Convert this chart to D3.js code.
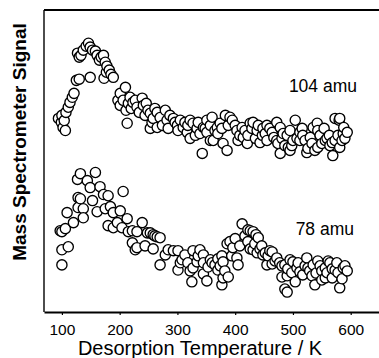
<!DOCTYPE html>
<html>
<head>
<meta charset="utf-8">
<script src="https://cdn.jsdelivr.net/npm/d3@7"></script>
<style>
  body { margin: 0; background: #fff; }
  svg { display: block; font-family: "Liberation Sans", Arial, Helvetica, sans-serif; }
</style>
</head>
<body>
<figure id="tpd" style="margin:0"></figure>
<script>
// Desorption temperature (K) and signal (arb. units)
const temp104 = [94, 99, 100, 102, 104, 106, 107, 111, 114, 118, 121, 125, 127, 130, 130, 133, 137, 142, 146, 149,
  149, 153, 158, 161, 165, 168, 172, 173, 175, 177, 178, 182, 185, 189, 197, 201, 201, 206, 210, 211,
  213, 215, 218, 220, 223, 227, 230, 234, 239, 241, 244, 246, 249, 253, 253, 256, 258, 261, 265, 265,
  270, 274, 279, 282, 284, 287, 293, 296, 300, 301, 305, 310, 313, 317, 318, 322, 322, 327, 331, 334,
  336, 339, 343, 345, 348, 351, 351, 357, 357, 360, 362, 365, 369, 370, 374, 377, 379, 383, 386, 388,
  391, 395, 400, 403, 405, 408, 412, 414, 417, 421, 422, 426, 429, 431, 435, 438, 440, 443, 447, 448,
  452, 455, 455, 460, 464, 467, 472, 472, 474, 478, 478, 481, 483, 486, 490, 492, 495, 495, 498, 500,
  504, 507, 512, 512, 516, 517, 521, 524, 526, 530, 533, 535, 538, 542, 543, 543, 547, 550, 554, 556,
  559, 563, 564, 568, 569, 573, 573, 578, 580, 581, 581, 585, 587, 588, 590, 594];
const signal104 = [64.1, 62.8, 65.1, 61.1, 63.4, 60.1, 66.1, 67.8, 69.4, 71.1, 72.4, 76.7, 85.7, 84.4, 77.1, 85.0, 86.7, 88.0, 89.0, 87.7,
  77.7, 86.7, 86.4, 85.0, 83.4, 84.4, 85.0, 77.4, 82.7, 79.4, 81.4, 80.1, 78.7, 77.7, 70.1, 72.4, 68.4, 70.1, 74.4, 66.8,
  62.5, 69.1, 71.1, 67.4, 69.4, 70.1, 67.8, 66.1, 70.8, 68.4, 65.1, 69.1, 66.8, 65.8, 60.8, 62.8, 64.1, 67.4, 66.1, 61.1,
  64.4, 61.8, 66.8, 63.5, 60.8, 65.1, 64.1, 62.8, 61.8, 60.1, 63.5, 61.1, 62.8, 59.5, 61.8, 63.5, 57.5, 62.5, 58.5, 60.8,
  62.8, 59.1, 52.5, 61.1, 60.8, 63.5, 59.5, 61.8, 56.8, 64.5, 56.8, 60.1, 61.1, 59.1, 62.5, 60.8, 55.8, 65.1, 53.5, 61.8,
  64.5, 63.5, 61.8, 60.1, 56.8, 58.5, 61.1, 57.8, 60.1, 55.8, 58.5, 62.5, 60.8, 62.8, 57.5, 60.1, 61.8, 56.1, 58.5, 60.8,
  59.1, 61.8, 56.8, 60.8, 59.5, 57.8, 62.8, 56.8, 55.8, 61.1, 52.5, 57.5, 59.1, 55.1, 58.5, 54.5, 60.1, 53.5, 55.1, 56.8,
  63.5, 57.5, 59.5, 56.8, 60.8, 58.5, 56.8, 52.8, 54.2, 57.8, 55.8, 61.1, 53.5, 62.5, 60.1, 54.5, 58.5, 55.8, 60.8, 56.8,
  57.5, 58.5, 55.1, 56.1, 51.8, 64.1, 56.8, 58.5, 63.5, 64.1, 54.5, 56.8, 59.1, 61.1, 57.5, 59.5];

const temp78 = [97, 100, 100, 100, 106, 109, 111, 120, 127, 128, 128, 132, 132, 137, 137, 144, 149, 153, 158, 161,
  166, 172, 175, 180, 180, 184, 189, 189, 196, 201, 204, 206, 213, 215, 222, 222, 227, 230, 230, 239,
  244, 248, 253, 258, 258, 261, 265, 270, 270, 279, 284, 293, 301, 301, 305, 308, 313, 318, 322, 325,
  327, 327, 334, 336, 339, 345, 345, 345, 351, 353, 357, 360, 365, 370, 370, 374, 377, 377, 379, 379,
  382, 386, 388, 391, 394, 396, 400, 403, 405, 408, 412, 417, 422, 422, 426, 426, 431, 431, 434, 436,
  438, 440, 443, 446, 448, 452, 455, 457, 460, 464, 464, 469, 472, 477, 481, 481, 486, 486, 490, 490,
  491, 495, 498, 500, 504, 507, 509, 512, 517, 521, 524, 526, 529, 533, 535, 538, 540, 543, 547, 550,
  550, 556, 556, 559, 561, 564, 568, 568, 573, 576, 578, 581, 585, 587, 590, 594];
const signal78 = [26.9, 26.6, 20.6, 15.6, 27.6, 32.9, 21.6, 29.6, 43.9, 37.9, 34.6, 45.8, 37.5, 34.2, 31.2, 43.5, 41.2, 36.9, 46.2, 33.2,
  41.5, 38.9, 34.2, 38.5, 28.6, 34.9, 32.9, 27.9, 29.6, 33.5, 27.9, 39.9, 30.9, 26.6, 26.9, 22.9, 20.6, 26.6, 21.3, 29.6,
  21.9, 26.2, 26.2, 25.6, 20.9, 25.2, 24.9, 24.6, 15.6, 18.9, 20.6, 20.3, 20.3, 13.9, 16.3, 17.3, 18.9, 16.3, 13.6, 10.0,
  20.3, 14.6, 16.6, 18.6, 20.6, 18.9, 16.3, 12.6, 10.3, 14.9, 17.3, 16.3, 15.6, 17.6, 13.9, 15.3, 18.6, 9.0, 16.6, 11.3,
  13.6, 22.6, 11.6, 23.3, 18.6, 21.3, 24.3, 17.9, 15.6, 21.9, 29.2, 25.2, 27.2, 23.3, 26.9, 20.9, 26.6, 20.6, 22.6, 25.6,
  19.6, 24.6, 20.9, 21.9, 18.9, 19.6, 15.6, 18.6, 20.3, 19.9, 15.9, 16.9, 17.9, 16.3, 15.3, 11.6, 15.6, 7.6, 12.0, 6.6,
  14.3, 17.3, 13.0, 16.6, 10.0, 14.6, 16.3, 13.3, 12.3, 15.3, 17.9, 14.6, 13.6, 12.0, 15.6, 9.0, 12.9, 16.9, 15.3, 13.6,
  10.6, 14.6, 11.3, 13.0, 16.9, 16.3, 14.3, 11.3, 13.9, 16.3, 13.0, 8.0, 11.0, 14.6, 15.3, 13.6];

const tickLabels = [100, 200, 300, 400, 500, 600];
const seriesNames = ['104 amu', '78 amu'];

const width = 379;
const height = 358;

const svg = d3.select('figure#tpd')
  .append('svg')
  .attr('width', width)
  .attr('height', height);

const x = d3.scaleLinear().domain([69, 649]).range([44, 379]);
const y = d3.scaleLinear().domain([0, 100]).range([312, 10]);

// frame: left, top and bottom only
svg.append('line')
  .attr('x1', 44).attr('x2', 44).attr('y1', 10).attr('y2', 312)
  .attr('stroke', '#000').attr('stroke-width', 1.4);
svg.append('line')
  .attr('x1', 44).attr('x2', width).attr('y1', 10).attr('y2', 10)
  .attr('stroke', '#000').attr('stroke-width', 1.8);

const xAxis = svg.append('g')
  .attr('transform', 'translate(0,312)')
  .call(d3.axisBottom(x).tickValues(tickLabels).tickSize(3).tickPadding(9).tickSizeOuter(0));
xAxis.select('.domain').attr('stroke-width', 1.8);
xAxis.selectAll('.tick line').attr('stroke-width', 1.2);
xAxis.selectAll('.tick text')
  .style('font-size', '15.5px')
  .style('font-family', '"Liberation Sans", Arial, sans-serif')
  .attr('fill', '#000');

svg.append('text')
  .attr('x', 200).attr('y', 355)
  .attr('text-anchor', 'middle')
  .style('font-size', '20px')
  .text('Desorption Temperature / K');

svg.append('text')
  .attr('transform', 'translate(26,142) rotate(-90)')
  .attr('text-anchor', 'middle')
  .style('font-size', '19px')
  .style('font-weight', 'bold')
  .text('Mass Spectrometer Signal');

function drawSeries(temps, signals) {
  svg.append('g')
    .selectAll('circle')
    .data(temps.map((t, i) => [t, signals[i]]))
    .enter()
    .append('circle')
    .attr('cx', d => x(d[0]))
    .attr('cy', d => y(d[1]))
    .attr('r', 5.1)
    .attr('fill', '#fff')
    .attr('stroke', '#000')
    .attr('stroke-width', 1.35);
}

drawSeries(temp104, signal104);
drawSeries(temp78, signal78);

// series labels
svg.append('text')
  .attr('x', 357).attr('y', 92)
  .attr('text-anchor', 'end')
  .style('font-size', '17.5px')
  .text(seriesNames[0]);
svg.append('text')
  .attr('x', 354).attr('y', 235)
  .attr('text-anchor', 'end')
  .style('font-size', '17.5px')
  .text(seriesNames[1]);
</script>
</body>
</html>
